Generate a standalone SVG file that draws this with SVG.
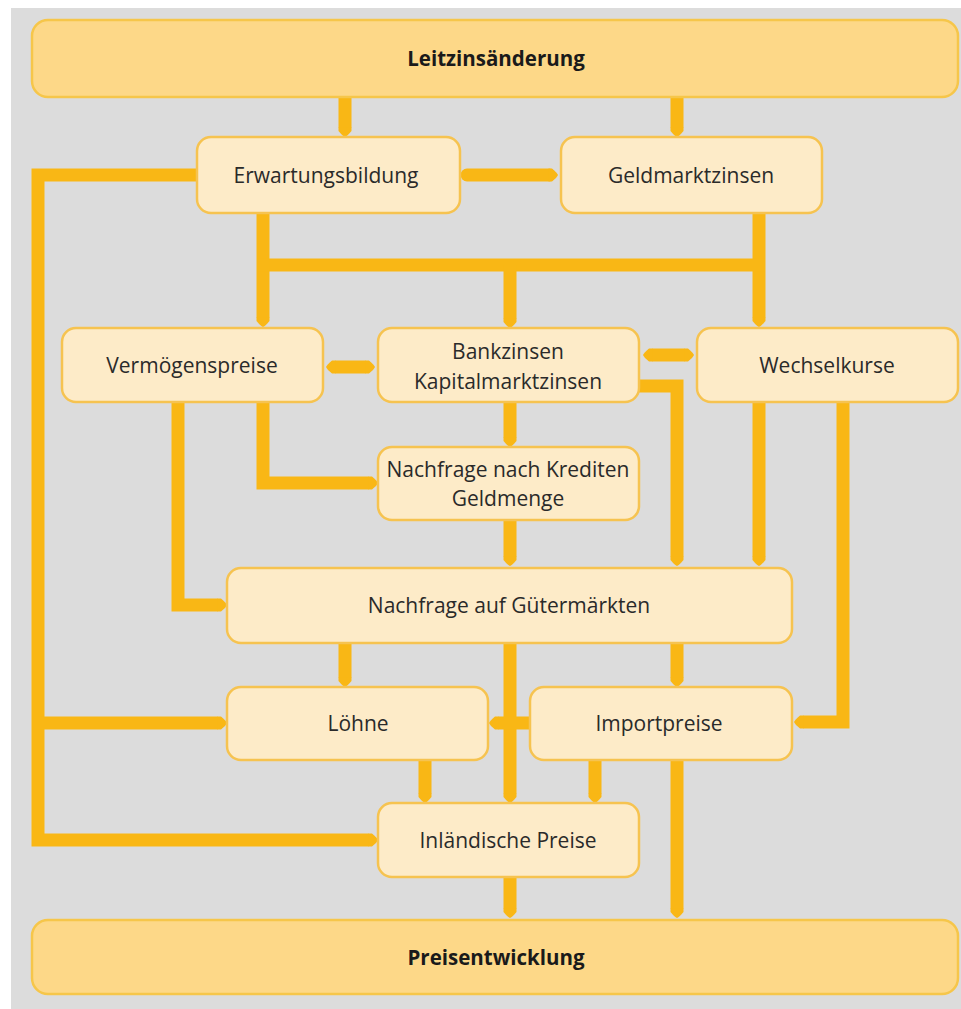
<svg xmlns="http://www.w3.org/2000/svg" width="961" height="1009" viewBox="0 0 961 1009">
<style>
.bg{fill:#dcdcdc}
.n rect{fill:#fdebc8;stroke:#f6c350;stroke-width:2.5}
.m rect{fill:#fdd888;stroke:#f6c64a;stroke-width:2.5}
text{font-family:"Open Sans","Noto Sans","Liberation Sans",sans-serif;font-size:21px;fill:#2a2a2a;text-anchor:middle}
.m text{font-weight:bold;font-size:20.5px;fill:#1a1a1a}
.c path{fill:none;stroke:#f9b715;stroke-width:13;stroke-linejoin:miter}
</style>
<defs>
<marker id="ah" markerUnits="userSpaceOnUse" markerWidth="12" markerHeight="16" viewBox="0 -8 12 16" refX="0" refY="0" orient="auto-start-reverse" overflow="visible">
<path d="M-0.5,-6.5 L3,-6.5 Q8,-2.5 9,0 Q8,2.5 3,6.5 L-0.5,6.5 Z" fill="#f9b715"/>
</marker>
</defs>
<rect class="bg" x="11" y="8" width="950" height="1001"/>
<g class="c" id="connectors">
<path d="M345,97 V128" marker-end="url(#ah)"/>
<path d="M677,97 V128" marker-end="url(#ah)"/>
<path d="M467,175 H549" style="stroke-linecap:round" marker-end="url(#ah)"/>
<path d="M197,175 H38 V840 H369" marker-end="url(#ah)"/>
<path d="M38,723 H218" marker-end="url(#ah)"/>
<path d="M263,213 V318" marker-end="url(#ah)"/>
<path d="M759,213 V318" marker-end="url(#ah)"/>
<path d="M257,265 H765"/>
<path d="M510,265 V319" marker-end="url(#ah)"/>
<path d="M335,367 H366" marker-start="url(#ah)" marker-end="url(#ah)"/>
<path d="M652,355 H685" marker-start="url(#ah)" marker-end="url(#ah)"/>
<path d="M639,386 H677 V557" marker-end="url(#ah)"/>
<path d="M510,402 V438" marker-end="url(#ah)"/>
<path d="M510,520 V557" marker-end="url(#ah)"/>
<path d="M178,402 V605 H218" marker-end="url(#ah)"/>
<path d="M263,402 V483 H369" marker-end="url(#ah)"/>
<path d="M759,402 V557" marker-end="url(#ah)"/>
<path d="M843,402 V722 H803" marker-end="url(#ah)"/>
<path d="M345,643 V678" marker-end="url(#ah)"/>
<path d="M677,643 V678" marker-end="url(#ah)"/>
<path d="M510,643 V794" marker-end="url(#ah)"/>
<path d="M530,723 H498" marker-end="url(#ah)"/>
<path d="M425,760 V794" marker-end="url(#ah)"/>
<path d="M595,760 V794" marker-end="url(#ah)"/>
<path d="M677,760 V909" marker-end="url(#ah)"/>
<path d="M510,877 V909" marker-end="url(#ah)"/>
</g>
<g id="leitzins" class="m"><rect x="32" y="20" width="926" height="77" rx="16"/><text x="496" y="66">Leitzinsänderung</text></g>
<g id="erwartung" class="n"><rect x="197" y="137" width="263" height="76" rx="14"/><text x="326" y="183">Erwartungsbildung</text></g>
<g id="geldmarkt" class="n"><rect x="561" y="137" width="261" height="76" rx="14"/><text x="691" y="183">Geldmarktzinsen</text></g>
<g id="vermoegen" class="n"><rect x="62" y="328" width="261" height="74" rx="14"/><text x="192" y="373">Vermögenspreise</text></g>
<g id="bankzinsen" class="n"><rect x="378" y="328" width="261" height="74" rx="14"/><text x="508" y="359">Bankzinsen</text><text x="508" y="389">Kapitalmarktzinsen</text></g>
<g id="wechselkurse" class="n"><rect x="697" y="328" width="261" height="74" rx="14"/><text x="827" y="373">Wechselkurse</text></g>
<g id="kredite" class="n"><rect x="378" y="447" width="261" height="73" rx="14"/><text x="508" y="477">Nachfrage nach Krediten</text><text x="508" y="506">Geldmenge</text></g>
<g id="gueter" class="n"><rect x="227" y="568" width="565" height="75" rx="14"/><text x="509" y="613">Nachfrage auf Gütermärkten</text></g>
<g id="loehne" class="n"><rect x="227" y="687" width="261" height="73" rx="14"/><text x="358" y="731">Löhne</text></g>
<g id="import" class="n"><rect x="530" y="687" width="262" height="73" rx="14"/><text x="659" y="731">Importpreise</text></g>
<g id="inland" class="n"><rect x="378" y="803" width="261" height="74" rx="14"/><text x="508" y="848">Inländische Preise</text></g>
<g id="preisentwicklung" class="m"><rect x="32" y="920" width="926" height="74" rx="16"/><text x="496" y="965">Preisentwicklung</text></g>
</svg>
